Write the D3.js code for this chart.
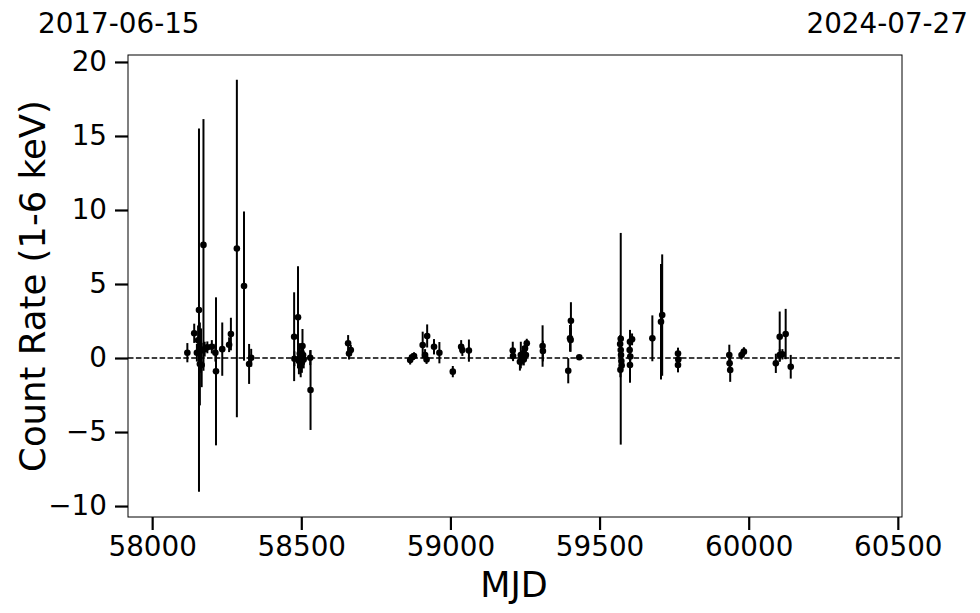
<!DOCTYPE html>
<html>
<head>
<meta charset="utf-8">
<script src="https://cdn.jsdelivr.net/npm/d3@7"></script>
<style>
  html, body { margin: 0; padding: 0; background: #fff; }
  svg { display: block; font-family: "DejaVu Sans", sans-serif; }
</style>
</head>
<body>
<svg id="chart" width="980" height="613"></svg>
<script>
// ---- data ----
const mjd = [
  58118, 58141, 58150, 58154, 58157, 58160, 58164, 58166, 58172, 58176,
  58185, 58200, 58212, 58214, 58235, 58258, 58264, 58284, 58308, 58325, 58332,
  58476, 58477, 58489, 58492, 58495, 58498, 58500, 58502, 58504, 58506, 58508, 58530, 58531,
  58657, 58660, 58666,
  58865, 58871, 58878, 58907, 58915, 58920, 58922, 58945, 58963, 59008, 59036, 59040, 59062,
  59209, 59210, 59233, 59236, 59239, 59243, 59246, 59250, 59253, 59256, 59309, 59310,
  59395, 59401, 59403, 59404, 59432,
  59571, 59569, 59571, 59572, 59573, 59574, 59570, 59602, 59609, 59601, 59603, 59602,
  59677, 59706, 59710, 59763, 59764, 59763,
  59935, 59936, 59938, 59976, 59984, 60091, 60104, 60104, 60113, 60124, 60141
];
const rate = [
  0.36, 1.67, 0.36, 1.2, 3.24, -0.4, 0.5, -0.47, 7.64, 0.6,
  0.72, 0.76, 0.36, -0.9, 0.6, 0.9, 1.62, 7.4, 4.86, -0.4, 0.02,
  1.44, -0.05, 2.75, -0.2, 0.3, -0.5, 0.1, -0.3, 0.81, 0.2, -0.1, 0.02, -2.16,
  1.0, 0.3, 0.54,
  -0.14, 0.05, 0.14, 0.88, 0.2, -0.1, 1.49, 0.76, 0.36, -0.92, 0.76, 0.54, 0.5,
  0.5, 0.14, -0.25, 0.2, 0.0, 0.3, -0.1, 0.65, 0.2, 1.0, 0.81, 0.47,
  -0.86, 1.33, 1.22, 2.52, 0.05,
  1.3, 0.95, 0.54, 0.2, -0.2, -0.5, -0.8, 1.1, 1.26, 0.54, 0.1, -0.47,
  1.33, 2.45, 2.9, 0.3, -0.1, -0.47,
  0.2, -0.36, -0.81, 0.2, 0.43, -0.36, 0.2, 1.44, 0.25, 1.62, -0.59
];
const rateErr = [
  0.65, 0.65, 0.6, 1.0, 12.27, 2.8, 1.5, 1.5, 8.5, 0.5,
  0.4, 0.45, 0.6, 5.0, 1.8, 0.5, 1.1, 11.4, 5.04, 1.35, 0.6,
  3.0, 0.5, 3.45, 0.9, 0.7, 0.8, 0.6, 0.7, 1.15, 0.5, 0.6, 0.5, 2.7,
  0.55, 0.4, 0.35,
  0.3, 0.25, 0.25, 0.9, 0.4, 0.3, 0.78, 0.52, 0.72, 0.38, 0.45, 0.4, 0.75,
  0.6, 0.35, 0.6, 0.9, 0.5, 0.5, 0.4, 0.5, 0.3, 0.3, 1.4, 0.7,
  0.85, 0.9, 0.8, 1.25, 0.15,
  7.15, 0.6, 0.5, 0.4, 0.5, 0.4, 0.5, 0.8, 0.4, 0.4, 0.5, 1.2,
  1.55, 3.9, 4.1, 0.4, 0.3, 0.5,
  0.7, 0.6, 0.8, 0.3, 0.3, 0.65, 0.4, 1.7, 0.35, 1.7, 0.8
];
const xTicks = [58000, 58500, 59000, 59500, 60000, 60500];
const yTicks = [-10, -5, 0, 5, 10, 15, 20];
const dateLabels = ["2017-06-15", "2024-07-27"];
const xLabel = "MJD";
const yLabel = "Count Rate (1-6 keV)";

// ---- layout ----
const L = 128, R = 902, T = 55, B = 517;
const svg = d3.select("#chart");
const x = d3.scaleLinear().domain([57919, 60514]).range([L, R]);
const y = d3.scaleLinear().domain([-10.74, 20.47]).range([B, T]);

const points = mjd.map((m, i) => ({ m, v: rate[i], e: rateErr[i] }));

// zero line
svg.append("line")
  .attr("x1", L).attr("x2", R)
  .attr("y1", y(0)).attr("y2", y(0))
  .attr("stroke", "#000").attr("stroke-width", 1.5)
  .attr("stroke-dasharray", "5.5,2.4");

// error bars
svg.append("g").selectAll("line").data(points).join("line")
  .attr("x1", d => x(d.m)).attr("x2", d => x(d.m))
  .attr("y1", d => y(d.v - d.e)).attr("y2", d => y(d.v + d.e))
  .attr("stroke", "#000").attr("stroke-width", 2);

// markers
svg.append("g").selectAll("circle").data(points).join("circle")
  .attr("cx", d => x(d.m)).attr("cy", d => y(d.v)).attr("r", 3.3)
  .attr("fill", "#000");

// frame
svg.append("rect").attr("x", L).attr("y", T).attr("width", R - L).attr("height", B - T)
  .attr("fill", "none").attr("stroke", "#000").attr("stroke-width", 1);

// axes
const fmt = d3.format("d");
const xAxis = svg.append("g").attr("transform", `translate(0,${B})`)
  .call(d3.axisBottom(x).tickValues(xTicks).tickFormat(fmt).tickSize(13).tickPadding(6));
const yAxis = svg.append("g").attr("transform", `translate(${L},0)`)
  .call(d3.axisLeft(y).tickValues(yTicks).tickFormat(fmt).tickSize(13).tickPadding(8));
[xAxis, yAxis].forEach(g => {
  g.select(".domain").remove();
  g.selectAll(".tick line").attr("stroke", "#000").attr("stroke-width", 2.2);
  g.selectAll(".tick text").attr("fill", "#000")
    .style("font-family", "'DejaVu Sans', sans-serif").style("font-size", "27.8px");
});

// axis labels
svg.append("text").attr("x", (L + R) / 2 - 1).attr("y", 597)
  .attr("text-anchor", "middle").style("font-size", "35px").text(xLabel);
svg.append("text")
  .attr("transform", `translate(45,${(T + B) / 2}) rotate(-90)`)
  .attr("text-anchor", "middle").style("font-size", "35.5px").text(yLabel);

// date labels
svg.append("text").attr("x", 38).attr("y", 33).attr("text-anchor", "start")
  .style("font-size", "27.8px").text(dateLabels[0]);
svg.append("text").attr("x", 968).attr("y", 33).attr("text-anchor", "end")
  .style("font-size", "27.8px").text(dateLabels[1]);
</script>
</body>
</html>
